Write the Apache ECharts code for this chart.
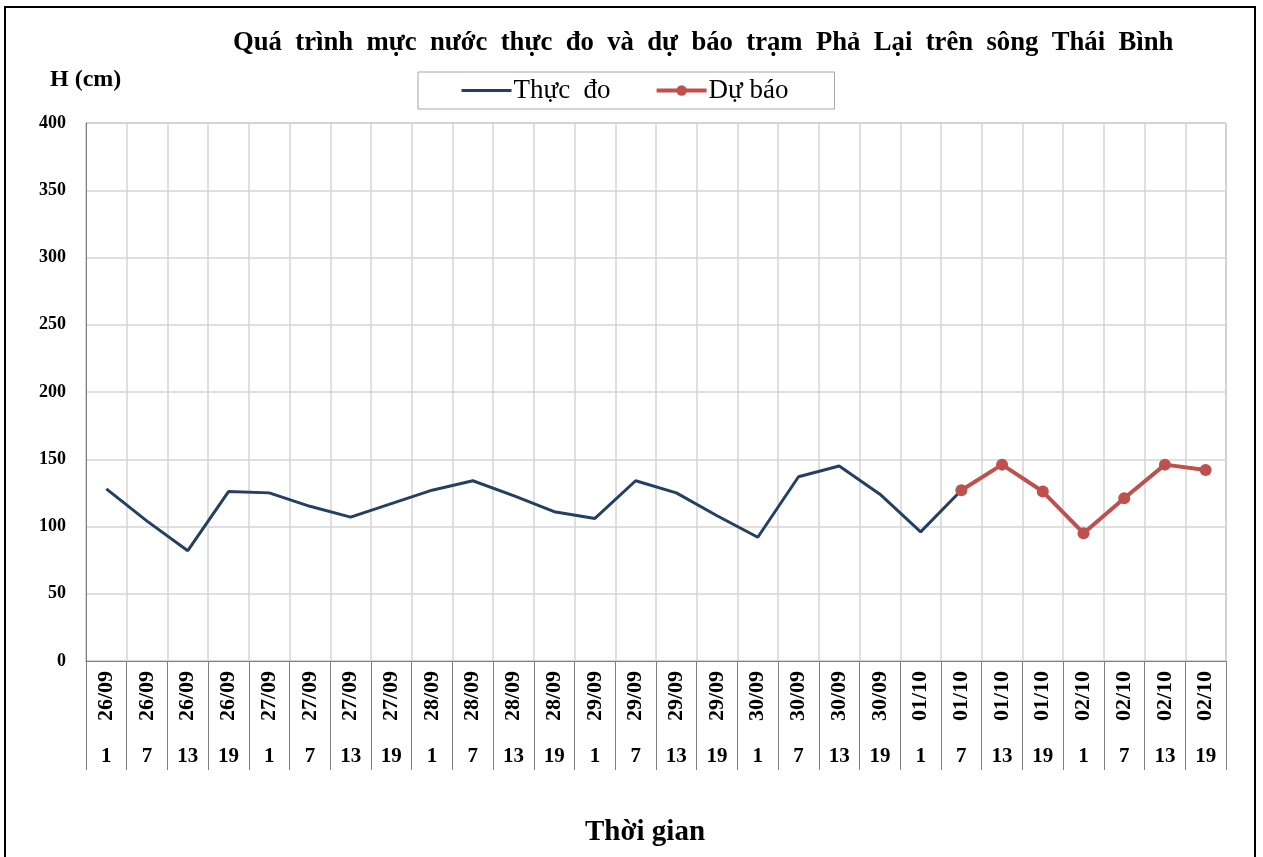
<!DOCTYPE html>
<html>
<head>
<meta charset="utf-8">
<title>Mực nước Phả Lại</title>
<script src="https://cdn.jsdelivr.net/npm/echarts@6/dist/echarts.min.js"></script>
<style>
  html, body { margin: 0; padding: 0; background: #fff; }
  #chart { width: 1263px; height: 857px; }
</style>
</head>
<body>
<div id="chart"></div>
<script>
// ngày và giờ của từng mốc
var dates = ['26/09', '26/09', '26/09', '26/09', '27/09', '27/09', '27/09', '27/09',
  '28/09', '28/09', '28/09', '28/09', '29/09', '29/09', '29/09', '29/09',
  '30/09', '30/09', '30/09', '30/09', '01/10', '01/10', '01/10', '01/10',
  '02/10', '02/10', '02/10', '02/10'];
var hours = ['1', '7', '13', '19', '1', '7', '13', '19', '1', '7', '13', '19', '1', '7',
  '13', '19', '1', '7', '13', '19', '1', '7', '13', '19', '1', '7', '13', '19'];
// mực nước thực đo (cm)
var thucDo = [128, 104, 82, 126, 125, 115, 107, 117, 127, 134, 123, 111, 106, 134,
  125, 108, 92, 137, 145, 124, 96, 127, null, null, null, null, null, null];
// mực nước dự báo (cm)
var duBao = [null, null, null, null, null, null, null, null, null, null, null, null, null, null,
  null, null, null, null, null, null, null, 127, 146, 126, 95, 121, 146, 142];
var yTicks = [0, 400, 50];

var serif = 'Liberation Serif, Times New Roman, serif';

function initChart() {
  var chart = echarts.init(document.getElementById('chart'));
  var option = {
    backgroundColor: '#fff',
    title: {
      text: 'Quá  trình  mực  nước  thực  đo  và  dự  báo  trạm  Phả  Lại  trên  sông  Thái  Bình',
      left: 228,
      top: 25,
      textStyle: {
        fontFamily: serif,
        fontSize: 26.7,
        fontWeight: 'bold',
        color: '#000'
      }
    },
    legend: {
      left: 418,
      top: 72,
      padding: [5, 46, 5, 42],
      itemGap: 44,
      itemWidth: 50,
      itemHeight: 13,
      borderColor: '#a6a6a6',
      borderWidth: 1,
      textStyle: {
        fontFamily: serif,
        fontSize: 27,
        color: '#000',
        padding: [0, 0, 0, -3]
      },
      data: [{
        name: 'Thực  đo',
        itemStyle: { opacity: 0 },
        lineStyle: { width: 3 }
      }, {
        name: 'Dự báo',
        lineStyle: { width: 4 }
      }]
    },
    grid: {
      left: 86,
      right: 37,
      top: 123,
      bottom: 196,
      show: true,
      borderColor: '#a0a0a0',
      borderWidth: 1
    },
    xAxis: [{
      type: 'category',
      data: dates,
      boundaryGap: true,
      axisLine: { show: true, lineStyle: { color: '#808080', width: 1 } },
      axisTick: { show: true, interval: 0, length: 109, lineStyle: { color: '#808080' } },
      splitLine: { show: true, interval: 0, lineStyle: { color: '#d4d4d4', width: 1.5 } },
      axisLabel: {
        interval: 0,
        rotate: 90,
        margin: 10,
        fontFamily: serif,
        fontSize: 22,
        fontWeight: 'bold',
        color: '#000'
      }
    }, {
      type: 'category',
      data: hours,
      position: 'bottom',
      axisLine: { show: false },
      axisTick: { show: false },
      splitLine: { show: false },
      axisLabel: {
        interval: 0,
        margin: 85,
        fontFamily: serif,
        fontSize: 21,
        fontWeight: 'bold',
        color: '#000'
      }
    }],
    yAxis: {
      type: 'value',
      min: yTicks[0],
      max: yTicks[1],
      interval: yTicks[2],
      axisLine: { show: true, lineStyle: { color: '#808080' } },
      axisTick: { show: false },
      splitLine: { show: true, lineStyle: { color: '#d4d4d4', width: 1.5 } },
      axisLabel: {
        margin: 20,
        fontFamily: serif,
        fontSize: 18,
        fontWeight: 'bold',
        color: '#000'
      }
    },
    series: [{
      name: 'Thực  đo',
      type: 'line',
      xAxisIndex: 0,
      data: thucDo,
      symbol: 'none',
      lineStyle: { color: '#243f60', width: 3 },
      itemStyle: { color: '#243f60' },
      z: 2
    }, {
      name: 'Dự báo',
      type: 'line',
      xAxisIndex: 0,
      data: duBao,
      symbol: 'circle',
      symbolSize: 12,
      lineStyle: { color: '#c0504d', width: 4 },
      itemStyle: { color: '#c0504d' },
      z: 3
    }],
    graphic: [{
      type: 'rect',
      shape: { x: 5, y: 7, width: 1250, height: 860 },
      style: { fill: 'none', stroke: '#000', lineWidth: 2 },
      silent: true
    }, {
      type: 'text',
      left: 50,
      top: 68,
      style: {
        text: 'H (cm)',
        fontFamily: serif,
        fontSize: 24,
        fontWeight: 'bold',
        fill: '#000'
      }
    }, {
      type: 'text',
      left: 585,
      top: 818,
      style: {
        text: 'Thời gian',
        fontFamily: serif,
        fontSize: 29,
        fontWeight: 'bold',
        fill: '#000'
      }
    }]
  };
  chart.setOption(option);
}

initChart();
</script>
</body>
</html>
